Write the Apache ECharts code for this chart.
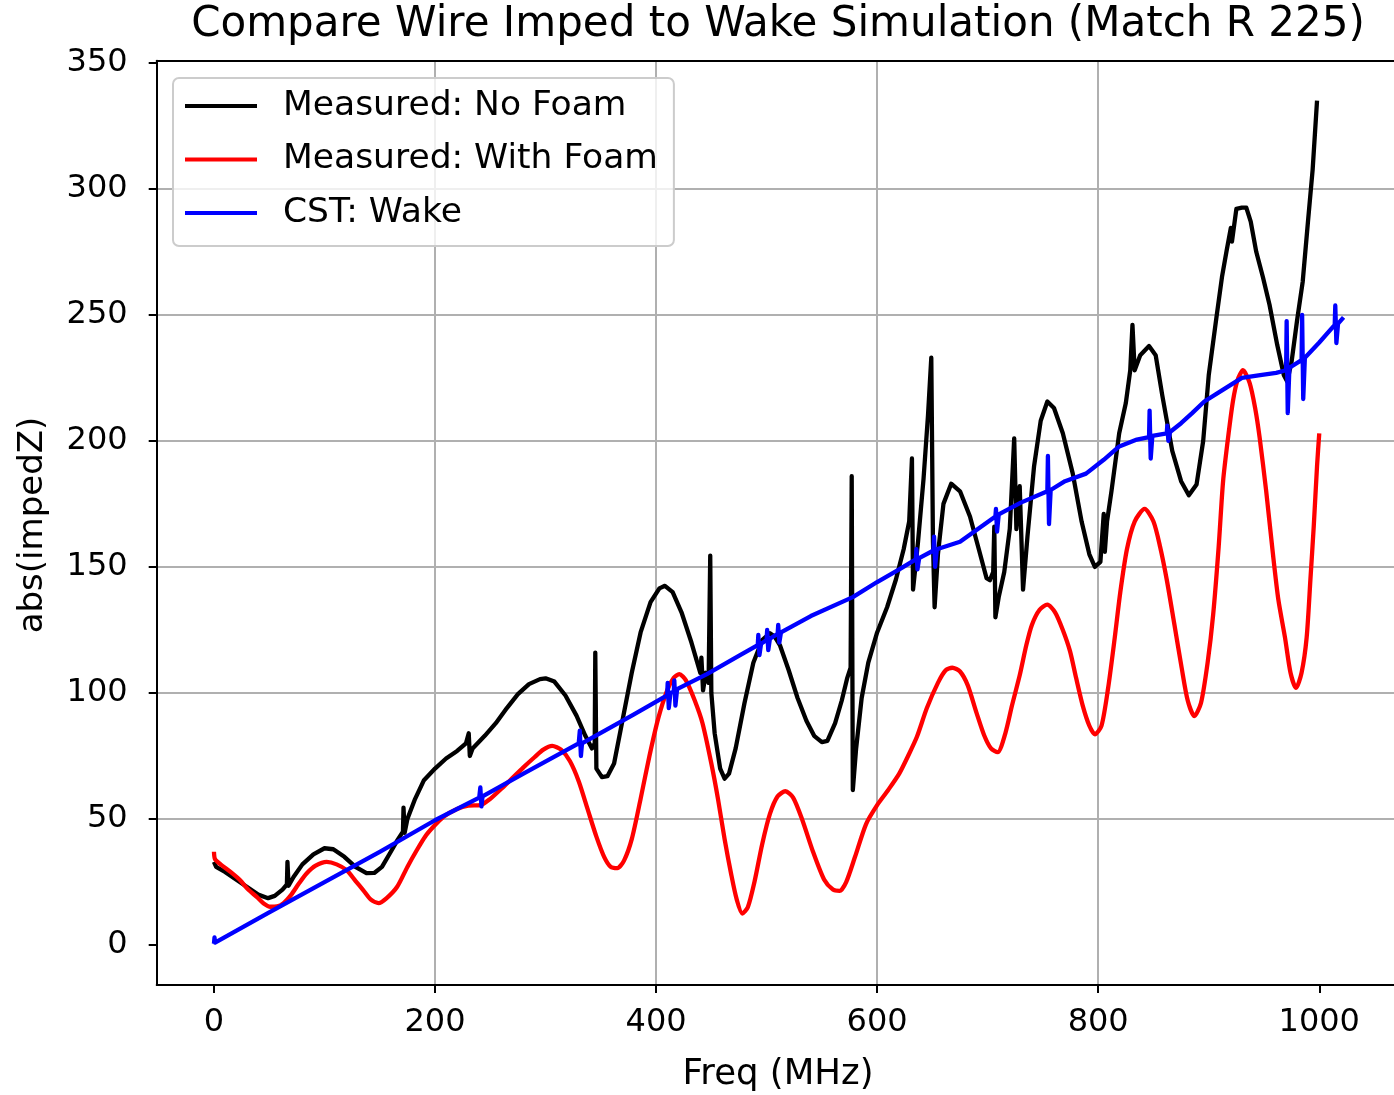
<!DOCTYPE html>
<html><head><meta charset="utf-8">
<script src="https://cdn.jsdelivr.net/npm/echarts@6/dist/echarts.min.js"></script>
<style>html,body{margin:0;padding:0;background:#fff;overflow:hidden}#c{width:1394px;height:1095px}</style>
</head><body><div id="c"></div>
<script>
// ---- Data ----
const seriesNames = ['Measured: No Foam', 'Measured: With Foam', 'CST: Wake'];

const blackFreq = [0,2,10,20,30,40,49,55,62,66,66.5,67.5,72,80,90,100,108,118,128,138,145,152,160,166,171,171.5,172.5,175,182,190,200,210,220,228,230.5,231.5,234,245,255,265,275,285,295,300,308,318,328,336,342,344.5,345,346,351,356,362,370,378,386,395,403,408,415,423,432,440,441,442.5,445,447.5,449,450,453,458,462,466,472,480,488,496,503,507,512,520,528,536,543,550,555,562,568,573,576,577,578,581,586,592,600,609,617,624,629,631.5,632.5,637,642,646,649,650.5,652,655,660,667,675,684,692,699,702,705,706,707,710,715,720,724,726,729,732,736,742,748,754,760,768,777,785,792,797,802,805,806,808,812,819,825,829,831,833,838,846,852,858,867,875,882,889,895,900,907,912,916,920,921,925,930,934,938,943,949,955,962,968,971,975,980,985,990,994,998];
const blackZ = [33,31,29,26,23,20,18.6,19.5,22,24,33,23.5,27,32,36,38.4,38,35,31,28.5,28.6,31,37,41.6,45,54.5,44.5,50,58,65.4,70,74,77,80,84,75,78,83,88,94,99.5,103.5,105.5,105.8,104.5,99,91,83,78,80,116,70,66.6,67,72,90,108,124,136,141.5,142.5,140,132,120,108,114,101,108,104,154.5,100,84,70,66,68,78,96,112,121,123.7,122.5,119,109,98,89,83,80.5,81,88,97,106,110,186,61.5,78,98,112,124,134,145,157,168,193,141,160,185,210,233,160,134,155,175,183,180,170,157,145.5,144.7,148,166,130,138,148,165,201,165,182,141,162,190,208,215.6,213,203,187,168,155,150,152,171,156,168,180,203,215,228,246,228,234,237.6,234,218,196,184,178.4,182.7,200,226,249,265,275,284.5,279,292,292.5,292.5,287,275,265,254,238,226,223.5,231.5,248,263,288,307.5,335];

const redFreq = [0,1,6,15,23.5,31,39,45,51,57,63,70,77,84,92,102,111,120,128,135,142,149,156,165.6,175,183.6,191,198.7,208,220,230,241,250,260,268,280,290,298,306,314,322,330,338,346,353,359,365,371,378,386,394,402,410,416,421,427,435,442,450,456,462,468,473,478,483,489,496,503,510,517,524,532,542,552,560,566,572,580,590,600,610,620,628,636,645,655,662,668,675,682,690,697,703,709,716,722,729,735,740,747,754,761,768,774.5,780,786,792,797,803,809,815,820,826,833,842,850,856,862,869,875.5,881,887,893,899,904,909,913,918,922,926,931,937,942,946,952,958,963,969,974,979,984,988.6,992,995,998,1000];
const redZ = [37,34,32,29,25.8,22,19,16.5,15.2,15.3,16.6,20,24.5,28.5,31.5,33,32,29.7,25.5,21.8,18,16.6,18.5,23,31,37.7,43,47,51,54,55.3,55.5,58,62,65.4,70.5,74.5,77.5,79,77.5,73,65,54,43,35,31,30.5,33.5,42,58,75,90,101,106,107.5,105,97,88,72,58,42,28,18,12.5,15,25,40,52,59,61,58.5,50,37,26,22,21.5,25,35,48,55.5,61.5,68,75,82.6,94,104,109,110,108.5,103,92,83,78,76.5,84,95,107,119,127,133,135,132,125,116.6,106,95,87,83.6,87,102,122,140,157,168,173,168,158,145,127,110,97,90.8,96,112,131,158,184,203,216,224,228,223,213,201.5,180,155.5,137,122,108,102,108,122,145,166,190,203];

const blueFreq = [0,0.5,1,50,100,150,200,240,241,242,243,280,330,331,332,333,380,410,410.5,411.5,413,416,416.5,417.5,419,446,476,492,492.5,493.5,495,500,500.5,501.5,503,510,510.5,511.5,513,540,578,600,620,635,635.5,636.5,638,651,651.5,652.5,654,675,707,707.5,708.5,710,730,754,754.5,755.5,757,770,789,805,819,835,846,846.5,847.5,849,862,862.5,863.5,865,875,885,896,912,930,945,961,970,970.5,971.5,973,984,984.5,985.5,987,1000,1014,1014.5,1015.5,1017,1022];
const blueZ = [0.5,3,1,13,25,37,49.5,58.5,62.5,55,59,68,80,85,75,80,91.5,99,104,94,100,100.5,105,95,101.5,107.5,115,119,123,115,119.5,121,125,117,121.5,123.5,127,120,124,130.5,138,144,149,153,157,149,153.5,156.5,162,150,157,160,170,173,164,170.8,175.5,180,194,167,180.5,184,187,192.5,197.8,200.5,201.5,212,193,202,203,206,200,203.5,207,211,215.6,220,225,226,227,228,247.5,211,229,232,250,216.6,233,239,246,253.7,238.8,246.5,249];

const xTickValues = [0, 200, 400, 600, 800, 1000];
const yTickValues = [0, 50, 100, 150, 200, 250, 300, 350];

const titleText = 'Compare Wire Imped to Wake Simulation (Match R 225)';
const xLabelText = 'Freq (MHz)';
const yLabelText = 'abs(impedZ)';

// ---- Chart ----
function pairs(a, b) { return a.map((x, i) => [x, b[i]]); }
const FONT = '"DejaVu Sans", sans-serif';
const chart = echarts.init(document.getElementById('c'), null, { renderer: 'canvas' });

const lineSeries = (name, fx, fy, color, smooth) => ({
  name: name, type: 'line', data: pairs(fx, fy), xAxisIndex: 0, yAxisIndex: 0,
  showSymbol: false, symbol: 'none', smooth: smooth, clip: true,
  lineStyle: { color: color, width: 4.3, join: 'round' },
  itemStyle: { color: color },
  emphasis: { disabled: true }
});

// the reference axes box runs past the right edge of the 1394 px picture
const X_MIN = -51.8, X_MAX = 1090;
const PX_PER_MHZ = 1.1053;

chart.setOption({
  animation: false,
  backgroundColor: '#ffffff',
  grid: {
    left: 156.7, top: 60.7, width: (X_MAX - X_MIN) * PX_PER_MHZ, height: 924.3,
    show: false, containLabel: false, outerBoundsMode: 'none'
  },
  xAxis: [{
    type: 'value', min: X_MIN, max: X_MAX, splitNumber: 5, position: 'bottom',
    axisLine: { show: true, onZero: false, lineStyle: { color: '#000', width: 2 } },
    axisTick: { show: true, inside: false, length: 8, lineStyle: { color: '#000', width: 2 }, customValues: xTickValues },
    axisLabel: { show: true, customValues: xTickValues, formatter: v => String(v), fontSize: 32, fontFamily: FONT, color: '#000', margin: 22 },
    splitLine: { show: true, showMinLine: false, showMaxLine: false, lineStyle: { color: '#b0b0b0', width: 2 } }
  }, {
    type: 'value', min: X_MIN, max: X_MAX, position: 'top',
    axisLine: { show: true, onZero: false, lineStyle: { color: '#000', width: 2 } },
    axisTick: { show: false }, axisLabel: { show: false }, splitLine: { show: false }
  }],
  yAxis: {
    type: 'value', min: -15.85, max: 350.8, splitNumber: 7,
    axisLine: { show: true, onZero: false, lineStyle: { color: '#000', width: 2 } },
    axisTick: { show: true, inside: false, length: 8, lineStyle: { color: '#000', width: 2 }, customValues: yTickValues },
    axisLabel: { show: true, customValues: yTickValues, formatter: v => String(v), fontSize: 32, fontFamily: FONT, color: '#000', margin: 29 },
    splitLine: { show: true, showMinLine: false, showMaxLine: false, lineStyle: { color: '#b0b0b0', width: 2 } }
  },
  legend: {
    orient: 'vertical', left: 173, top: 78,
    itemWidth: 72, itemHeight: 4, itemGap: 18.5, icon: 'rect',
    padding: [10.5, 16, 15.5, 12],
    backgroundColor: 'rgba(255,255,255,0.8)', borderColor: '#cccccc', borderWidth: 2, borderRadius: 6,
    textStyle: { fontSize: 34.5, fontFamily: FONT, color: '#000', padding: [0, 0, 0, 21] },
    data: seriesNames
  },
  graphic: [
    { type: 'text', x: 778, y: 25, style: { text: titleText, fontSize: 42, fontFamily: FONT, fill: '#000', align: 'center', verticalAlign: 'middle' } },
    { type: 'text', x: 778, y: 1075, style: { text: xLabelText, fontSize: 35.5, fontFamily: FONT, fill: '#000', align: 'center', verticalAlign: 'middle' } },
    { type: 'text', x: 33, y: 525, rotation: Math.PI / 2, style: { text: yLabelText, fontSize: 34, fontFamily: FONT, fill: '#000', align: 'center', verticalAlign: 'middle' } }
  ],
  series: [
    lineSeries(seriesNames[0], blackFreq, blackZ, '#000000', false),
    lineSeries(seriesNames[1], redFreq, redZ, '#ff0000', 0.25),
    lineSeries(seriesNames[2], blueFreq, blueZ, '#0000ff', false)
  ]
});
</script></body></html>
